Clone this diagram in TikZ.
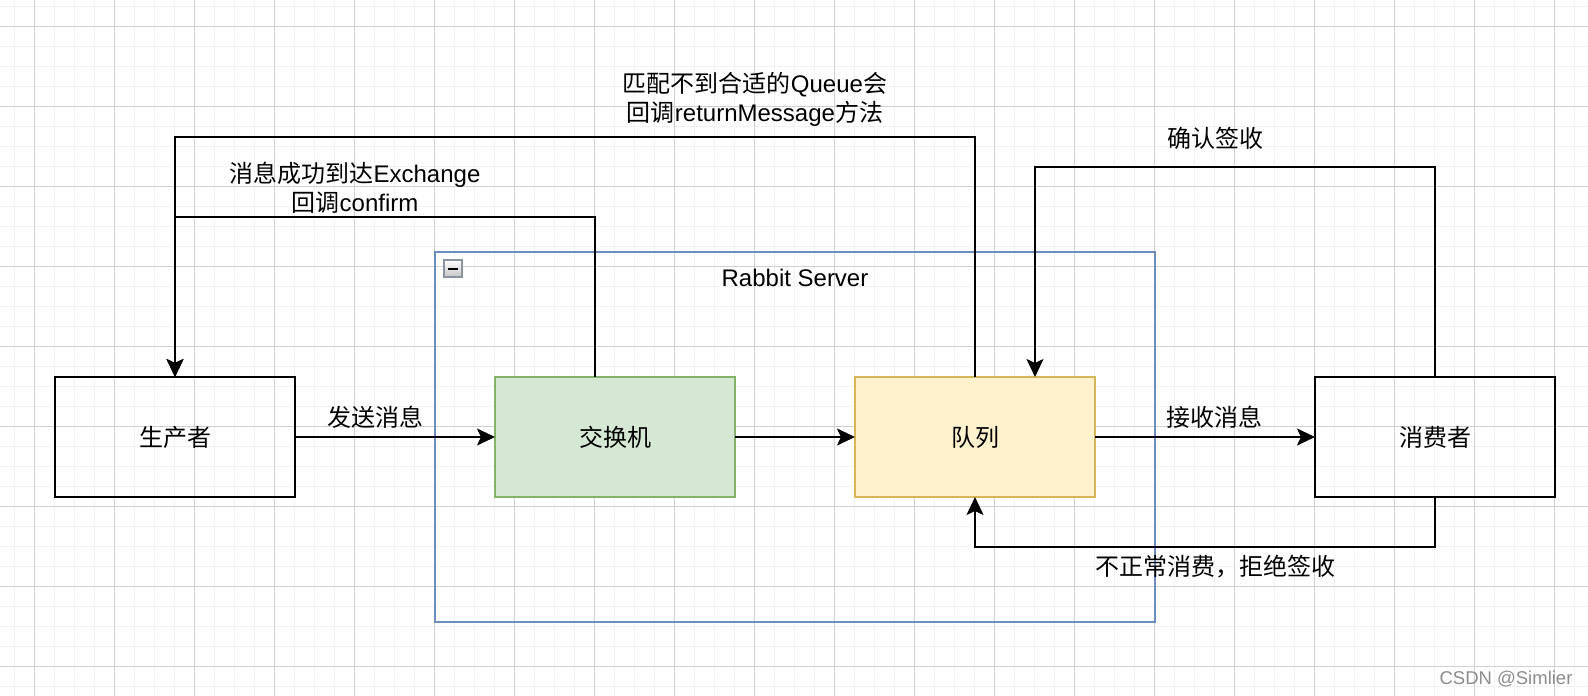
\documentclass[tikz,border=0pt]{standalone}
\usepackage{fontspec}
\setmainfont{Liberation Sans}
\newfontfamily\cjk{Noto Sans CJK SC}
\usetikzlibrary{positioning,arrows.meta}

\definecolor{gridminor}{HTML}{F2F2F2}
\definecolor{gridmajor}{HTML}{D0D0D0}
\definecolor{srvblue}{HTML}{6C8EBF}
\definecolor{exfill}{HTML}{D5E8D4}
\definecolor{exline}{HTML}{82B366}
\definecolor{qfill}{HTML}{FFF2CC}
\definecolor{qline}{HTML}{D6B656}
\definecolor{iconline}{HTML}{8A93A0}

\begin{document}
\begin{tikzpicture}[x=1pt, y=-1pt,
  box/.style={draw, line width=2pt, outer sep=0pt, inner sep=0pt,
    minimum width=240pt, minimum height=120pt,
    font=\fontsize{24}{29}\selectfont\cjk},
  lbl/.style={inner sep=0pt, align=center, font=\fontsize{24}{29}\selectfont},
  flow/.style={line width=2pt, -{Stealth[length=18pt, width=17pt, inset=4pt]}}]
  \useasboundingbox (0,0) rectangle (1588,696);
  \fill[white] (0,0) rectangle (1588,696);

  % grid
  \foreach \x in {14,34,...,1588} \draw[gridminor, line width=1pt] (\x,0) -- (\x,696);
  \foreach \y in {6,26,...,696} \draw[gridminor, line width=1pt] (0,\y) -- (1588,\y);
  \foreach \x in {34,114,...,1588} \draw[gridmajor, line width=1pt] (\x,0) -- (\x,696);
  \foreach \y in {26,106,...,696} \draw[gridmajor, line width=1pt] (0,\y) -- (1588,\y);

  % server group
  \node[draw=srvblue, line width=2pt, minimum width=720pt, minimum height=370pt] (srv) at (795,437) {};
  \node[lbl] (srvLbl) at (795,278) {Rabbit Server};
  \draw[draw=iconline, top color=white, bottom color=gray!45, line width=1.5pt] (444,260) rectangle (462,277);
  \draw[line width=2pt] (448,268.5) -- (458,268.5);

  \node[box] (prod) at (175,437) {生产者};
  \node[box, fill=exfill, draw=exline, right=200pt of prod] (exch) {交换机};
  \node[box, fill=qfill, draw=qline, right=120pt of exch] (que) {队列};
  \node[box, right=220pt of que] (cons) {消费者};

  \coordinate (retL) at (175,137);
  \coordinate (confL) at (175,217);
  \coordinate (ackL) at (1035,167);
  \coordinate (rejR) at (975,547);

  \draw[flow] (prod) -- node[lbl, above=8pt, pos=0.4] {\cjk 发送消息} (exch);
  \draw[flow] (exch) -- (que);
  \draw[flow] (que) -- node[lbl, above=8pt, pos=0.545] {\cjk 接收消息} (cons);
  \draw[flow] ([xshift=-20pt]exch.north) |- (confL) -- (prod.north);
  \draw[flow] (que.north) |- (retL) -- (prod.north);
  \draw[flow] (cons.north) |- (ackL) -- (ackL |- que.north);
  \draw[flow] (cons.south) |- (rejR) -- (que.south);

  \node[lbl] (confLbl) at (355,188) {{\cjk 消息成功到达}Exchange\\{\cjk 回调}confirm};
  \node[lbl] (retLbl) at (755,99) {{\cjk 匹配不到合适的}Queue{\cjk 会}\\{\cjk 回调}returnMessage{\cjk 方法}};
  \node[lbl] (ackLbl) at (1215,138) {\cjk 确认签收};
  \node[lbl] (rejLbl) at (1215,567) {\cjk 不正常消费，拒绝签收};

  \node[inner sep=0pt, text=gray!90, font=\fontsize{18.5}{20}\selectfont] (mark) at (1506,679) {CSDN @Simlier};
\end{tikzpicture}
\end{document}
